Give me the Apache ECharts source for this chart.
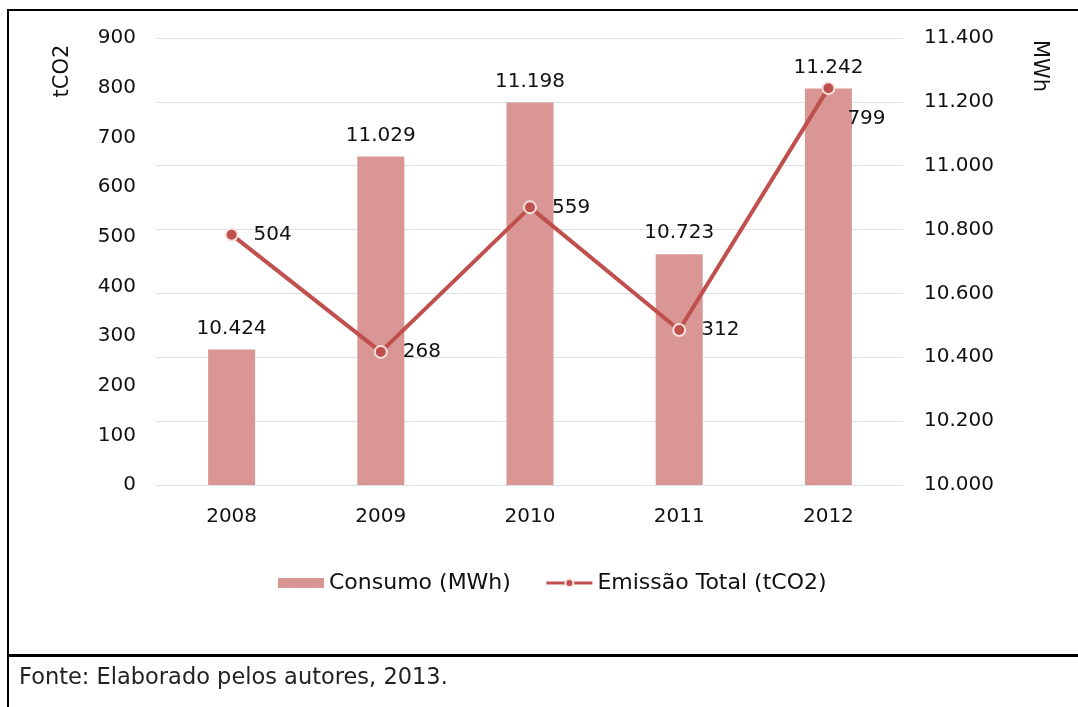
<!DOCTYPE html>
<html>
<head>
<meta charset="utf-8">
<script src="https://cdn.jsdelivr.net/npm/echarts@6/dist/echarts.min.js"></script>
<style>
  html, body { margin: 0; padding: 0; background: #ffffff; }
  #chart { width: 1078px; height: 707px; }
</style>
</head>
<body>
<div id="chart"></div>
<script>
// Annual energy consumption (MWh) and total emissions (tCO2)
const years = ['2008', '2009', '2010', '2011', '2012'];
const consumoMWh = [10424, 11029, 11198, 10723, 11242];
const emissaoTCO2 = [504, 268, 559, 312, 799];

const FONT = 'DejaVu Sans';
const TEXT = '#111111';
const BAR_COLOR = '#d99694';
const LINE_COLOR = '#c0504d';

// Brazilian-style thousands separator: 11242 -> "11.242"
function fmtThousands(v) {
  return String(Math.round(v)).replace(/\B(?=(\d{3})+(?!\d))/g, '.');
}

const chart = echarts.init(document.getElementById('chart'), null, { renderer: 'canvas' });

chart.setOption({
  backgroundColor: '#ffffff',
  animation: false,
  textStyle: { fontFamily: FONT, color: TEXT },
  grid: { left: 157, right: 175, top: 38, bottom: 222 },
  legend: {
    top: 572,
    left: 278,
    padding: 0,
    itemGap: 34,
    itemWidth: 46,
    itemHeight: 10,
    itemTextGap: 4,
    textStyle: { fontFamily: FONT, fontSize: 22, color: TEXT },
    data: [
      { name: 'Consumo (MWh)', icon: 'rect' },
      { name: 'Emissão Total (tCO2)', lineStyle: { width: 3, color: LINE_COLOR } }
    ]
  },
  xAxis: {
    type: 'category',
    data: years,
    axisLine: { show: false },
    axisTick: { show: false },
    axisLabel: { fontFamily: FONT, fontSize: 20, color: TEXT, margin: 22 }
  },
  yAxis: [
    {
      type: 'value',
      position: 'left',
      min: 0,
      max: 900,
      interval: 100,
      axisLine: { show: false },
      axisTick: { show: false },
      splitLine: { show: false },
      axisLabel: { fontFamily: FONT, fontSize: 20, color: TEXT, margin: 21 }
    },
    {
      type: 'value',
      position: 'right',
      min: 10000,
      max: 11400,
      interval: 200,
      axisLine: { show: false },
      axisTick: { show: false },
      splitLine: { show: true, lineStyle: { color: '#dae1e9', width: 1 } },
      axisLabel: {
        fontFamily: FONT, fontSize: 20, color: TEXT, margin: 21,
        formatter: fmtThousands
      }
    }
  ],
  series: [
    {
      name: 'Consumo (MWh)',
      type: 'bar',
      yAxisIndex: 1,
      data: consumoMWh,
      barWidth: 47,
      itemStyle: { color: BAR_COLOR },
      label: {
        show: true,
        position: 'top',
        distance: 11,
        fontFamily: FONT,
        fontSize: 20,
        color: TEXT,
        formatter: p => fmtThousands(p.value)
      },
      z: 2
    },
    {
      name: 'Emissão Total (tCO2)',
      type: 'line',
      yAxisIndex: 0,
      data: emissaoTCO2.map((v, i) => (
        i === emissaoTCO2.length - 1
          ? { value: v, label: { offset: [-3, 31] } }
          : v
      )),
      symbol: 'circle',
      symbolSize: 12,
      lineStyle: { color: LINE_COLOR, width: 4 },
      itemStyle: { color: LINE_COLOR, borderColor: '#f8e2e0', borderWidth: 2 },
      label: {
        show: true,
        position: 'right',
        distance: 15,
        fontFamily: FONT,
        fontSize: 20,
        color: TEXT
      },
      z: 3
    }
  ],
  graphic: [
    // axis titles
    {
      type: 'text', x: 63, y: 71, rotation: Math.PI / 2,
      style: { text: 'tCO2', font: '21px "DejaVu Sans"', fill: TEXT, align: 'center', verticalAlign: 'middle' }
    },
    {
      type: 'text', x: 1039, y: 66, rotation: -Math.PI / 2,
      style: { text: 'MWh', font: '21px "DejaVu Sans"', fill: TEXT, align: 'center', verticalAlign: 'middle' }
    },
    // frame lines
    { type: 'line', shape: { x1: 7, y1: 10, x2: 1078, y2: 10 }, style: { stroke: '#000', lineWidth: 2 } },
    { type: 'line', shape: { x1: 8, y1: 9, x2: 8, y2: 707 }, style: { stroke: '#000', lineWidth: 2 } },
    { type: 'line', shape: { x1: 7, y1: 655.5, x2: 1078, y2: 655.5 }, style: { stroke: '#000', lineWidth: 3 } },
    // source note
    {
      type: 'text', x: 19, y: 678,
      style: { text: 'Fonte: Elaborado pelos autores, 2013.', font: '22.5px "DejaVu Sans"', fill: '#222', align: 'left', verticalAlign: 'middle' }
    }
  ]
});
</script>
</body>
</html>
